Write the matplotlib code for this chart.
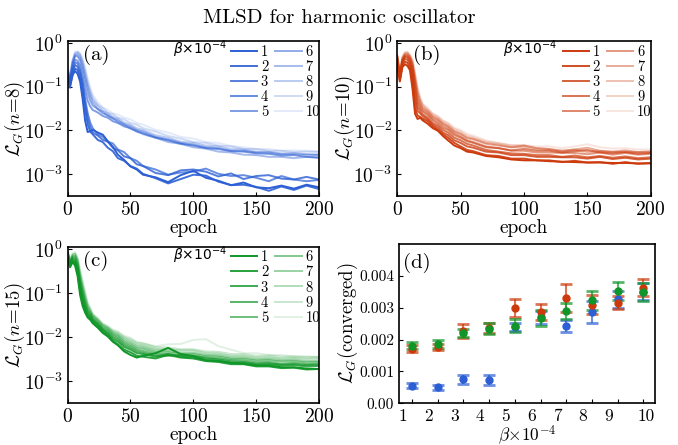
import matplotlib.pyplot as plt
import numpy as np
from matplotlib.colors import to_rgba
from matplotlib.transforms import ScaledTranslation

plt.rcParams["font.family"] = "serif"
plt.rcParams["font.serif"] = ["cmr10"]
plt.rcParams["mathtext.fontset"] = "cm"
plt.rcParams["axes.formatter.use_mathtext"] = True

EPOCHS = [0, 2, 4, 6, 8, 10, 12, 14, 16, 18, 20, 24, 28, 32, 36, 40, 45, 50, 55, 60,
          70, 80, 90, 100, 110, 120, 130, 140, 150, 160, 170, 180, 190, 200]
BETAS = [1, 2, 3, 4, 5, 6, 7, 8, 9, 10]

# log10 of L_G per beta, panel (a): n=8
LOG_LOSS_N8 = [
    [-0.80, -1.02, -0.72, -0.64, -0.70, -0.88, -1.28, -1.78, -2.04, -2.02, -1.99, -2.05, -2.10, -2.25, -2.38, -2.56, -2.68, -2.83, -2.90, -3.02, -3.08, -3.19, -3.03, -2.93, -3.09, -3.16, -3.26, -3.20, -3.31, -3.33, -3.27, -3.34, -3.25, -3.31],
    [-0.72, -0.96, -0.74, -0.58, -0.62, -0.80, -1.12, -1.52, -1.86, -2.03, -2.09, -2.22, -2.27, -2.40, -2.48, -2.64, -2.70, -2.82, -2.88, -3.00, -3.10, -3.22, -3.12, -3.02, -3.04, -3.18, -3.26, -3.25, -3.30, -3.39, -3.29, -3.37, -3.27, -3.35],
    [-0.76, -0.92, -0.66, -0.50, -0.54, -0.70, -0.98, -1.38, -1.72, -1.92, -2.05, -2.12, -2.22, -2.26, -2.40, -2.46, -2.60, -2.64, -2.78, -2.82, -2.98, -3.03, -2.92, -2.90, -2.95, -3.06, -2.99, -3.12, -3.05, -3.03, -3.11, -3.13, -3.07, -3.13],
    [-0.70, -0.86, -0.62, -0.44, -0.46, -0.62, -0.90, -1.28, -1.60, -1.82, -1.95, -2.09, -2.15, -2.26, -2.30, -2.44, -2.50, -2.64, -2.70, -2.82, -2.90, -3.02, -2.97, -2.95, -2.88, -3.00, -3.05, -3.03, -3.09, -3.17, -3.05, -3.13, -3.17, -3.14],
    [-0.72, -0.88, -0.55, -0.38, -0.40, -0.52, -0.78, -1.08, -1.32, -1.45, -1.53, -1.59, -1.67, -1.71, -1.79, -1.83, -1.91, -1.95, -2.03, -2.07, -2.17, -2.23, -2.31, -2.35, -2.41, -2.43, -2.48, -2.49, -2.53, -2.54, -2.58, -2.57, -2.61, -2.62],
    [-0.65, -0.82, -0.48, -0.30, -0.30, -0.40, -0.62, -0.90, -1.15, -1.32, -1.43, -1.51, -1.61, -1.65, -1.73, -1.77, -1.86, -1.91, -1.99, -2.03, -2.15, -2.21, -2.29, -2.33, -2.39, -2.41, -2.47, -2.47, -2.51, -2.51, -2.55, -2.55, -2.56, -2.57],
    [-0.70, -0.80, -0.45, -0.28, -0.26, -0.34, -0.52, -0.78, -1.02, -1.22, -1.36, -1.51, -1.57, -1.67, -1.72, -1.81, -1.87, -1.96, -2.01, -2.09, -2.17, -2.27, -2.31, -2.39, -2.42, -2.49, -2.51, -2.56, -2.57, -2.61, -2.61, -2.64, -2.61, -2.64],
    [-0.62, -0.78, -0.42, -0.25, -0.22, -0.28, -0.45, -0.70, -0.95, -1.15, -1.30, -1.44, -1.55, -1.61, -1.69, -1.73, -1.82, -1.87, -1.95, -1.99, -2.11, -2.17, -2.26, -2.29, -2.35, -2.37, -2.43, -2.44, -2.49, -2.49, -2.53, -2.52, -2.55, -2.55],
    [-0.60, -0.75, -0.40, -0.22, -0.20, -0.25, -0.40, -0.62, -0.88, -1.08, -1.24, -1.41, -1.49, -1.59, -1.63, -1.71, -1.75, -1.83, -1.87, -1.95, -2.03, -2.13, -2.19, -2.27, -2.29, -2.35, -2.37, -2.43, -2.43, -2.47, -2.47, -2.50, -2.49, -2.50],
    [-0.58, -0.72, -0.38, -0.20, -0.18, -0.22, -0.35, -0.55, -0.80, -1.00, -1.18, -1.35, -1.47, -1.53, -1.61, -1.64, -1.71, -1.75, -1.83, -1.87, -1.99, -2.05, -2.15, -2.19, -2.27, -2.29, -2.36, -2.39, -2.43, -2.43, -2.47, -2.46, -2.47, -2.48],
]

# panel (b): n=10
LOG_LOSS_N10 = [
    [-0.50, -0.88, -0.55, -0.48, -0.52, -0.62, -1.05, -1.62, -1.74, -1.71, -1.77, -1.85, -1.95, -2.01, -2.13, -2.23, -2.35, -2.41, -2.49, -2.51, -2.59, -2.62, -2.67, -2.69, -2.69, -2.71, -2.72, -2.73, -2.74, -2.74, -2.75, -2.75, -2.76, -2.76],
    [-0.45, -0.85, -0.50, -0.42, -0.45, -0.55, -0.90, -1.48, -1.66, -1.69, -1.73, -1.79, -1.91, -1.99, -2.09, -2.17, -2.29, -2.37, -2.45, -2.48, -2.57, -2.59, -2.65, -2.65, -2.69, -2.69, -2.73, -2.70, -2.74, -2.73, -2.77, -2.73, -2.77, -2.75],
    [-0.40, -0.80, -0.45, -0.36, -0.38, -0.48, -0.76, -1.30, -1.55, -1.61, -1.67, -1.75, -1.87, -1.94, -2.05, -2.11, -2.23, -2.29, -2.37, -2.40, -2.49, -2.51, -2.57, -2.57, -2.61, -2.61, -2.62, -2.62, -2.65, -2.61, -2.66, -2.63, -2.67, -2.65],
    [-0.36, -0.78, -0.42, -0.32, -0.33, -0.42, -0.66, -1.15, -1.46, -1.55, -1.63, -1.71, -1.83, -1.89, -1.99, -2.05, -2.17, -2.23, -2.31, -2.35, -2.45, -2.49, -2.53, -2.54, -2.57, -2.57, -2.61, -2.58, -2.62, -2.59, -2.63, -2.60, -2.64, -2.62],
    [-0.34, -0.76, -0.40, -0.30, -0.30, -0.38, -0.58, -1.02, -1.36, -1.49, -1.57, -1.65, -1.77, -1.84, -1.94, -1.99, -2.11, -2.17, -2.25, -2.29, -2.39, -2.41, -2.46, -2.43, -2.47, -2.47, -2.51, -2.48, -2.45, -2.51, -2.53, -2.50, -2.54, -2.52],
    [-0.32, -0.74, -0.38, -0.28, -0.28, -0.35, -0.52, -0.92, -1.28, -1.43, -1.53, -1.61, -1.73, -1.79, -1.89, -1.95, -2.07, -2.14, -2.23, -2.27, -2.37, -2.41, -2.47, -2.47, -2.51, -2.51, -2.52, -2.52, -2.55, -2.51, -2.56, -2.52, -2.56, -2.54],
    [-0.30, -0.72, -0.36, -0.26, -0.25, -0.32, -0.48, -0.84, -1.20, -1.37, -1.49, -1.57, -1.69, -1.75, -1.85, -1.91, -2.03, -2.09, -2.18, -2.21, -2.31, -2.35, -2.39, -2.35, -2.41, -2.43, -2.47, -2.44, -2.40, -2.47, -2.49, -2.46, -2.50, -2.48],
    [-0.30, -0.70, -0.34, -0.24, -0.23, -0.30, -0.44, -0.78, -1.12, -1.31, -1.45, -1.55, -1.67, -1.73, -1.83, -1.89, -2.01, -2.07, -2.16, -2.19, -2.29, -2.33, -2.39, -2.39, -2.44, -2.45, -2.49, -2.46, -2.50, -2.49, -2.50, -2.50, -2.51, -2.51],
    [-0.28, -0.68, -0.32, -0.22, -0.21, -0.28, -0.40, -0.72, -1.06, -1.27, -1.41, -1.51, -1.63, -1.69, -1.79, -1.85, -1.97, -2.03, -2.12, -2.16, -2.26, -2.30, -2.35, -2.35, -2.41, -2.43, -2.47, -2.44, -2.48, -2.47, -2.50, -2.49, -2.50, -2.50],
    [-0.26, -0.66, -0.30, -0.20, -0.19, -0.26, -0.36, -0.66, -1.00, -1.23, -1.39, -1.49, -1.61, -1.67, -1.77, -1.82, -1.94, -1.99, -2.08, -2.12, -2.23, -2.29, -2.34, -2.34, -2.37, -2.37, -2.41, -2.37, -2.32, -2.39, -2.42, -2.41, -2.44, -2.44],
]

# panel (c): n=15
LOG_LOSS_N15 = [
    [-0.20, -0.42, -0.30, -0.38, -0.62, -1.05, -1.30, -1.45, -1.56, -1.61, -1.69, -1.79, -1.91, -1.99, -2.11, -2.19, -2.33, -2.41, -2.47, -2.43, -2.37, -2.25, -2.39, -2.44, -2.53, -2.55, -2.59, -2.61, -2.65, -2.65, -2.69, -2.69, -2.72, -2.73],
    [-0.15, -0.40, -0.28, -0.33, -0.55, -0.95, -1.22, -1.40, -1.53, -1.59, -1.67, -1.77, -1.89, -1.97, -2.09, -2.17, -2.29, -2.35, -2.43, -2.45, -2.49, -2.41, -2.47, -2.49, -2.55, -2.57, -2.62, -2.62, -2.67, -2.67, -2.71, -2.70, -2.74, -2.73],
    [-0.18, -0.38, -0.25, -0.30, -0.50, -0.88, -1.15, -1.35, -1.49, -1.55, -1.63, -1.73, -1.85, -1.93, -2.05, -2.11, -2.23, -2.29, -2.37, -2.39, -2.45, -2.39, -2.45, -2.47, -2.53, -2.54, -2.59, -2.59, -2.63, -2.62, -2.65, -2.64, -2.67, -2.66],
    [-0.12, -0.36, -0.22, -0.26, -0.45, -0.82, -1.08, -1.30, -1.45, -1.52, -1.61, -1.71, -1.83, -1.91, -2.01, -2.07, -2.19, -2.25, -2.33, -2.36, -2.43, -2.43, -2.41, -2.43, -2.49, -2.51, -2.56, -2.57, -2.61, -2.60, -2.63, -2.62, -2.64, -2.63],
    [-0.10, -0.34, -0.20, -0.22, -0.40, -0.76, -1.02, -1.25, -1.41, -1.49, -1.59, -1.69, -1.81, -1.87, -1.97, -2.03, -2.15, -2.21, -2.29, -2.32, -2.39, -2.39, -2.43, -2.43, -2.47, -2.49, -2.53, -2.54, -2.58, -2.57, -2.61, -2.59, -2.62, -2.61],
    [-0.08, -0.32, -0.18, -0.18, -0.35, -0.70, -0.96, -1.20, -1.37, -1.46, -1.56, -1.66, -1.78, -1.84, -1.94, -1.99, -2.11, -2.17, -2.25, -2.27, -2.35, -2.35, -2.39, -2.39, -2.44, -2.45, -2.50, -2.50, -2.54, -2.53, -2.56, -2.55, -2.58, -2.57],
    [-0.06, -0.30, -0.16, -0.15, -0.30, -0.64, -0.90, -1.14, -1.33, -1.43, -1.53, -1.63, -1.75, -1.81, -1.91, -1.96, -2.07, -2.13, -2.21, -2.23, -2.31, -2.32, -2.36, -2.36, -2.41, -2.42, -2.47, -2.47, -2.51, -2.50, -2.53, -2.52, -2.55, -2.54],
    [-0.05, -0.28, -0.14, -0.12, -0.26, -0.58, -0.84, -1.08, -1.29, -1.39, -1.51, -1.61, -1.73, -1.79, -1.88, -1.93, -2.03, -2.09, -2.17, -2.19, -2.27, -2.28, -2.31, -2.31, -2.37, -2.38, -2.43, -2.43, -2.47, -2.46, -2.49, -2.48, -2.50, -2.49],
    [-0.04, -0.26, -0.12, -0.10, -0.22, -0.52, -0.78, -1.02, -1.25, -1.36, -1.49, -1.59, -1.71, -1.77, -1.86, -1.90, -2.00, -2.05, -2.13, -2.15, -2.23, -2.24, -2.28, -2.28, -2.33, -2.34, -2.39, -2.39, -2.43, -2.42, -2.45, -2.44, -2.46, -2.45],
    [-0.03, -0.24, -0.10, -0.08, -0.18, -0.46, -0.72, -0.96, -1.21, -1.33, -1.47, -1.57, -1.69, -1.75, -1.83, -1.87, -1.97, -2.02, -2.11, -2.14, -2.21, -2.17, -2.16, -2.07, -2.05, -2.21, -2.29, -2.37, -2.37, -2.41, -2.41, -2.45, -2.44, -2.46],
]

# panel (d): converged loss and its spread
CONV_N8 = [5.5e-4, 5.0e-4, 7.6e-4, 7.4e-4, 2.40e-3, 2.70e-3, 2.42e-3, 2.86e-3, 3.26e-3, 3.50e-3]
ERR_N8 = [0.8e-4, 0.8e-4, 1.4e-4, 1.6e-4, 1.3e-4, 2.0e-4, 1.8e-4, 3.5e-4, 2.6e-4, 2.7e-4]
CONV_N10 = [1.72e-3, 1.77e-3, 2.26e-3, 2.37e-3, 2.99e-3, 2.86e-3, 3.30e-3, 3.10e-3, 3.16e-3, 3.63e-3]
ERR_N10 = [1.0e-4, 1.0e-4, 2.2e-4, 1.6e-4, 2.9e-4, 2.5e-4, 4.4e-4, 3.0e-4, 2.0e-4, 2.6e-4]
CONV_N15 = [1.81e-3, 1.87e-3, 2.21e-3, 2.34e-3, 2.44e-3, 2.68e-3, 2.90e-3, 3.23e-3, 3.53e-3, 3.50e-3]
ERR_N15 = [1.2e-4, 1.2e-4, 1.3e-4, 1.7e-4, 2.1e-4, 2.5e-4, 2.4e-4, 3.0e-4, 2.9e-4, 2.8e-4]

BLUE = "#2c5fd4"
RED = "#cc3a0c"
GREEN = "#109628"
ALPHAS = np.linspace(1.0, 0.13, 10)


def style_axes(ax, size=14):
    ax.tick_params(direction="in", length=3, width=0.8, labelsize=size, top=False, right=False)
    ax.tick_params(which="minor", length=0)
    for sp in ax.spines.values():
        sp.set_linewidth(1.2)


def plot_curves(ax, curves, color, nval, tag, title_x, ylab_x):
    for i, row in enumerate(curves):
        ax.plot(EPOCHS, 10.0 ** np.array(row), color=color, alpha=ALPHAS[i], lw=1.4,
                label=str(BETAS[i]))
    ax.set_yscale("log")
    ax.set_xlim(0, 200)
    ax.set_ylim(3.1e-4, 1.12)
    ax.set_xticks([0, 50, 100, 150, 200])
    ax.set_yticks([1e-3, 1e-2, 1e-1, 1e0])
    ax.minorticks_off()
    style_axes(ax)
    ax.set_xlabel("epoch", fontsize=14, labelpad=0)
    ax.set_ylabel(r"$\mathcal{L}_G(n\!=\!%d)$" % nval, fontsize=13.5)
    ax.yaxis.set_label_coords(ylab_x, 0.5)
    ax.text(0.06, 0.91, tag, transform=ax.transAxes, fontsize=15, va="center")
    ax.legend(ncol=2, loc="upper right", bbox_to_anchor=(1.05, 1.05), frameon=False,
              fontsize=10.5, handlelength=1.8, handletextpad=0.25, columnspacing=0.5,
              labelspacing=0.1, borderpad=0.3)
    ax.text(title_x, 0.948, r"$\beta{\times}10^{-4}$", transform=ax.transAxes,
            fontsize=10, ha="right", va="center", math_fontfamily="dejavusans")


fig = plt.figure(figsize=(6.78, 4.45), dpi=100)
fig.patch.set_facecolor("white")

ax_a = fig.add_axes([0.0996, 0.5596, 0.371, 0.348])
ax_b = fig.add_axes([0.586, 0.5596, 0.3737, 0.348])
ax_c = fig.add_axes([0.0996, 0.0937, 0.371, 0.352])
ax_d = fig.add_axes([0.5885, 0.0937, 0.3776, 0.358])

plot_curves(ax_a, LOG_LOSS_N8, BLUE, 8, "(a)", 0.635, -0.161)
plot_curves(ax_b, LOG_LOSS_N10, RED, 10, "(b)", 0.63, -0.158)
plot_curves(ax_c, LOG_LOSS_N15, GREEN, 15, "(c)", 0.635, -0.161)

# panel (d)
for conv, err, color in [(CONV_N8, ERR_N8, BLUE), (CONV_N10, ERR_N10, RED),
                         (CONV_N15, ERR_N15, GREEN)]:
    ax_d.errorbar(BETAS, conv, yerr=err, fmt="o", color=color, ms=5, capsize=4,
                  elinewidth=1.5, capthick=2, ecolor=to_rgba(color, 0.7))
ax_d.set_xlim(0.5, 10.45)
ax_d.set_ylim(0, 0.005)
ax_d.set_xticks(BETAS)
ax_d.set_xticklabels([str(b) for b in BETAS])
ax_d.set_yticks([0, 0.001, 0.002, 0.003, 0.004])
ax_d.set_yticklabels(["0.00", "0.001", "0.002", "0.003", "0.004"])
style_axes(ax_d)
ax_d.tick_params(axis="x", labelsize=12.5, pad=4)
ax_d.tick_params(axis="y", labelsize=11)
for lab, b in zip(ax_d.get_xticklabels(), BETAS):
    dx = 2 / 72 if b == 10 else -6.5 / 72
    lab.set_transform(lab.get_transform() + ScaledTranslation(dx, 0, fig.dpi_scale_trans))
ax_d.set_xlabel(r"$\beta{\times}10^{-4}$", fontsize=12.5, labelpad=-1)
ax_d.set_ylabel(r"$\mathcal{L}_G$(converged)", fontsize=13.5)
ax_d.yaxis.set_label_coords(-0.152, 0.5)
ax_d.text(0.015, 0.88, "(d)", transform=ax_d.transAxes, fontsize=15, va="center")

fig.text(0.5, 0.96, "MLSD for harmonic oscillator", fontsize=15, ha="center", va="center")

fig.savefig("out.png", dpi=100)
